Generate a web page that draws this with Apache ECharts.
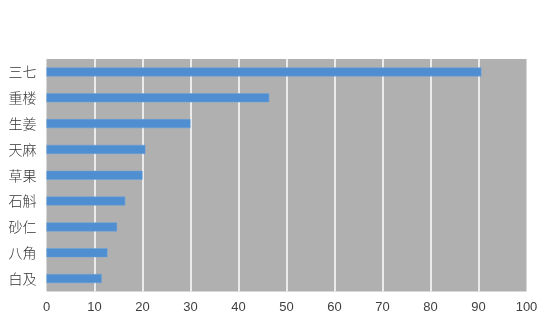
<!DOCTYPE html>
<html><head><meta charset="utf-8">
<script src="https://cdn.jsdelivr.net/npm/echarts@6/dist/echarts.min.js"></script>
<style>html,body{margin:0;padding:0;background:#fff}#c{width:548px;height:330px}</style>
</head><body><div id="c"></div>
<script>
const categories = ['三七','重楼','生姜','天麻','草果','石斛','砂仁','八角','白及'];
const values = [90.6, 46.4, 30.0, 20.6, 20.0, 16.4, 14.7, 12.7, 11.5];
const xTicks = [0,10,20,30,40,50,60,70,80,90,100];

const chart = echarts.init(document.getElementById('c'), null, {renderer:'canvas'});
chart.setOption({
  animation:false,
  backgroundColor:'#ffffff',
  grid:{left:46.5,right:21.5,top:59,bottom:38.5,show:true,backgroundColor:'#b0b0b0',borderWidth:0},
  xAxis:{
    type:'value',min:xTicks[0],max:xTicks[xTicks.length-1],interval:10,
    axisLine:{show:false},axisTick:{show:false},
    splitLine:{show:true,showMinLine:false,showMaxLine:false,lineStyle:{color:'#ffffff',width:1.5}},
    axisLabel:{color:'#404040',fontSize:13,fontFamily:'Liberation Sans',margin:9}
  },
  yAxis:{
    type:'category',data:categories,inverse:true,
    axisLine:{show:false},axisTick:{show:false},splitLine:{show:false},
    axisLabel:{color:'#333333',fontSize:14,fontFamily:'Noto Sans CJK SC',fontWeight:300,margin:10}
  },
  series:[{
    type:'bar',data:values,barWidth:9,
    itemStyle:{color:'#4f8fd1',borderColor:'#6aa3da',borderWidth:0.5}
  }]
});
</script></body></html>
